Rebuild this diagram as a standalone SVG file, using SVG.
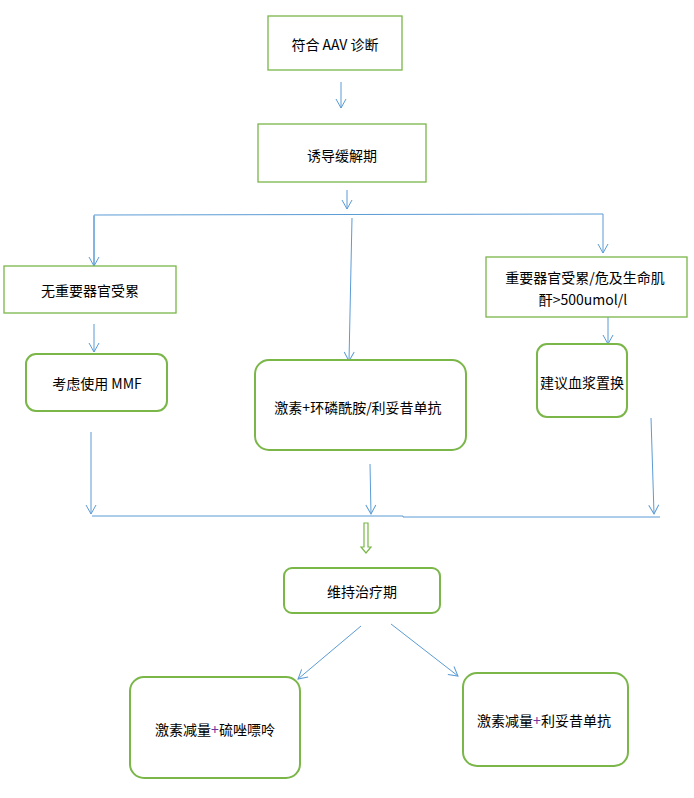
<svg xmlns="http://www.w3.org/2000/svg" width="694" height="798" viewBox="0 0 694 798">
<style>
.b{fill:#fff;stroke:#7ab648;stroke-width:1.3}
.r{fill:#fff;stroke:#7ab648;stroke-width:2}
.t{font-family:"Noto Sans CJK SC","Liberation Sans",sans-serif;font-size:14px;fill:#000;text-anchor:middle;dominant-baseline:central}
.c line,.c polyline{stroke:#5b9bd5;stroke-width:1;fill:none}
</style>
<defs><marker id="a" markerWidth="12" markerHeight="12" refX="6" refY="10" orient="auto" markerUnits="userSpaceOnUse" viewBox="0 0 12 12"><polyline points="1,1 6,10 11,1" transform="rotate(-90 6 6) translate(0 0)" fill="none" stroke="#5b9bd5"/></marker>
<marker id="m" markerWidth="12" markerHeight="12" refX="10" refY="6" orient="auto" markerUnits="userSpaceOnUse"><polyline points="1,1 10,6 1,11" fill="none" stroke="#5b9bd5"/></marker></defs>
<g class="c">
<line x1="341" y1="82" x2="341" y2="108" marker-end="url(#m)"/>
<line x1="347" y1="190" x2="347" y2="209" marker-end="url(#m)"/>
<polyline points="94,266 94,215 603,214 603,253" marker-end="url(#m)"/>
<line x1="94" y1="216" x2="94" y2="266" marker-end="url(#m)"/>
<line x1="352" y1="218" x2="349" y2="361" marker-end="url(#m)"/>
<line x1="94" y1="324" x2="94" y2="352" marker-end="url(#m)"/>
<line x1="608" y1="317" x2="608" y2="344" marker-end="url(#m)"/>
<line x1="91" y1="432" x2="91" y2="514" marker-end="url(#m)"/>
<line x1="370" y1="464" x2="371" y2="514" marker-end="url(#m)"/>
<line x1="651" y1="418" x2="654" y2="514" marker-end="url(#m)"/>
<polyline points="92,516 403,516 403,517 660,517"/>
<line x1="361" y1="626" x2="298" y2="679" marker-end="url(#m)"/>
<line x1="391" y1="624" x2="458" y2="676" marker-end="url(#m)"/>
</g>
<path d="M364,523 h4 v24 h3 l-5,6 l-5,-6 h3 z" fill="#fff" stroke="#7ab648" stroke-width="1.2"/>
<g id="n1"><rect class="b" x="268" y="16" width="134" height="54"/><text class="t" x="335" y="44">符合 AAV 诊断</text></g>
<g id="n2"><rect class="b" x="258" y="124" width="168" height="58"/><text class="t" x="342" y="155">诱导缓解期</text></g>
<g id="n3"><rect class="b" x="4" y="266" width="172" height="47"/><text class="t" x="90" y="290">无重要器官受累</text></g>
<g id="n4"><rect class="r" x="26" y="354" width="141" height="57" rx="10"/><text class="t" x="97" y="383">考虑使用 MMF</text></g>
<g id="n5"><rect class="r" x="255" y="360" width="211" height="90" rx="14"/><text class="t" x="358" y="407">激素+环磷酰胺/利妥昔单抗</text></g>
<g id="n6"><rect class="b" x="486" y="257" width="201" height="60"/><text class="t" x="585" y="277">重要器官受累/危及生命肌</text><text class="t" x="583" y="299">酐&gt;500umol/l</text></g>
<g id="n7"><rect class="r" x="537" y="344" width="90" height="73" rx="10"/><text class="t" x="582" y="382">建议血浆置换</text></g>
<g id="n8"><rect class="r" x="284" y="568" width="156" height="45" rx="8"/><text class="t" x="362" y="591">维持治疗期</text></g>
<g id="n9"><rect class="r" x="130" y="677" width="170" height="101" rx="14"/><text class="t" x="215" y="729">激素减量<tspan fill="#7030a0">+</tspan>硫唑嘌呤</text></g>
<g id="n10"><rect class="r" x="463" y="673" width="165" height="93" rx="14"/><text class="t" x="544" y="720">激素减量<tspan fill="#7030a0">+</tspan>利妥昔单抗</text></g>
</svg>
